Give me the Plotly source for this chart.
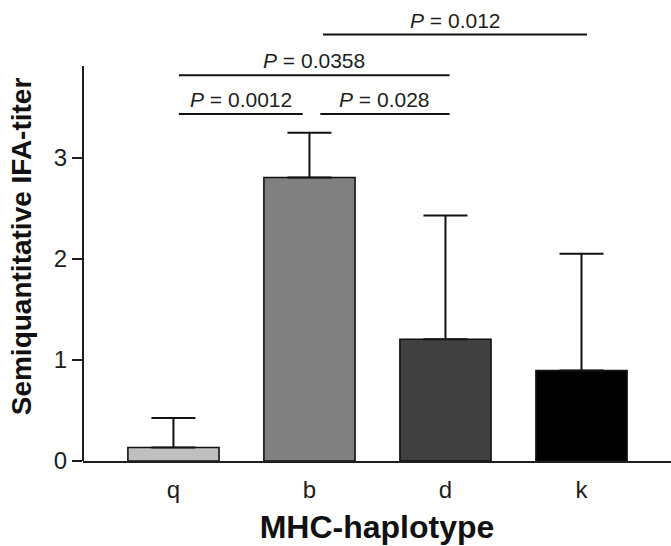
import plotly.graph_objects as go

# ---- data ----
categories = ["q", "b", "d", "k"]
means = [0.133, 2.806, 1.205, 0.895]
sd_upper = [0.293, 0.444, 1.225, 1.158]
bar_colors = ["#c0c0c0", "#808080", "#404040", "#000000"]

# comparisons: (left index, right index, line height, label)
comp_left = [0.04, 1.08, 0.04, 1.10]
comp_right = [0.95, 2.03, 2.03, 3.04]
comp_y = [3.436, 3.436, 3.819, 4.222]
comp_p = ["0.0012", "0.028", "0.0358", "0.012"]

FONT = "Liberation Sans, Arial, Helvetica, sans-serif"
INK = "#1e1e1e"

fig = go.Figure()
fig.add_trace(go.Bar(
    x=categories,
    y=means,
    width=0.67,
    marker=dict(color=bar_colors, line=dict(color="#111111", width=1.6)),
    error_y=dict(type="data", symmetric=False, array=sd_upper,
                 arrayminus=[0] * len(means), width=22, thickness=2,
                 color="#111111"),
    showlegend=False,
))

shapes = []
annotations = []
# y-axis line (stops at 3.91 like the original)
shapes.append(dict(type="line", xref="paper", yref="y", x0=0, x1=0,
                   y0=0, y1=3.91, line=dict(color=INK, width=2)))
for xl, xr, yy, p in zip(comp_left, comp_right, comp_y, comp_p):
    shapes.append(dict(type="line", xref="x", yref="y", x0=xl, x1=xr,
                       y0=yy, y1=yy, line=dict(color="#111111", width=2)))
    annotations.append(dict(x=(xl + xr) / 2, y=yy, xref="x", yref="y",
                            text="<i>P</i> = " + p, showarrow=False,
                            yanchor="bottom", yshift=1,
                            font=dict(family=FONT, size=21, color=INK)))

# y-axis title as annotation for exact placement
annotations.append(dict(x=-0.105, y=0.4875, xref="paper", yref="paper",
                        text="<b>Semiquantitative IFA-titer</b>",
                        textangle=-90, showarrow=False,
                        xanchor="center", yanchor="middle",
                        font=dict(family=FONT, size=28, color="#111111")))

fig.update_layout(
    width=671, height=546,
    margin=dict(l=83, r=0, t=20, b=85, autoexpand=False),
    paper_bgcolor="white", plot_bgcolor="white",
    bargap=0.33,
    shapes=shapes,
    annotations=annotations,
    xaxis=dict(
        range=[-0.665, 3.658], automargin=False,
        showline=True, linecolor=INK, linewidth=2,
        ticks="", showgrid=False, zeroline=False,
        ticklabelstandoff=6,
        tickfont=dict(family=FONT, size=24, color=INK),
        title=dict(text="<b>MHC-haplotype</b>", standoff=14,
                   font=dict(family=FONT, size=32, color="#111111")),
    ),
    yaxis=dict(
        range=[0, 4.366], automargin=False,
        showline=False, showgrid=False, zeroline=False,
        tickvals=[0, 1, 2, 3], ticktext=["0", "1", "2", "3"],
        ticks="outside", ticklen=10, tickwidth=2, tickcolor=INK,
        tickfont=dict(family=FONT, size=24, color=INK),
    ),
)

fig.write_html("out.html", config={"displayModeBar": False},
               post_script="document.body.style.margin='0';")
